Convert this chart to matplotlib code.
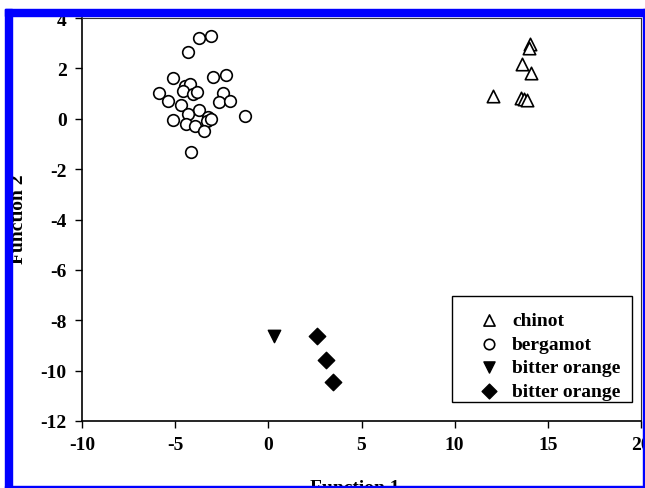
import numpy as np
import matplotlib
matplotlib.use("Agg")
import matplotlib.pyplot as plt
from matplotlib.patches import Rectangle

plt.rcParams['font.family'] = ['Liberation Serif', 'DejaVu Serif']
plt.rcParams['font.weight'] = 'bold'
plt.rcParams['axes.unicode_minus'] = False

# discriminant scores (Function 1, Function 2) per group
chinot_f1 = [14.05, 14.0, 13.6, 14.08, 12.08, 13.55, 13.74, 13.87]
chinot_f2 = [2.97, 2.80, 2.17, 1.80, 0.92, 0.81, 0.78, 0.76]

bergamot_f1 = [-3.74, -3.09, -4.33, -5.10, -2.99, -2.27, -4.47, -4.20, -4.56, -4.06,
               -3.85, -5.85, -5.37, -2.45, -2.65, -2.06, -4.71, -3.70, -4.29, -3.22,
               -3.31, -5.14, -4.42, -3.93, -3.44, -1.25, -4.17, -3.10]
bergamot_f2 = [3.21, 3.30, 2.64, 1.62, 1.67, 1.74, 1.31, 1.38, 1.09, 0.98,
               1.07, 1.01, 0.72, 1.01, 0.68, 0.69, 0.55, 0.36, 0.19, 0.06,
               -0.08, -0.05, -0.21, -0.28, -0.47, 0.12, -1.33, 0.00]

bitter1_f1 = [0.31]
bitter1_f2 = [-8.64]

bitter2_f1 = [2.60, 3.10, 3.49]
bitter2_f2 = [-8.64, -9.58, -10.44]

x_ticks = [-10, -5, 0, 5, 10, 15, 20]
y_ticks = [-12, -10, -8, -6, -4, -2, 0, 2, 4]

fig = plt.figure(figsize=(6.45, 4.89), dpi=100)
ax = fig.add_axes([82 / 645, 67 / 489, 559 / 645, 403 / 489])

ax.scatter(chinot_f1, chinot_f2, marker='^', s=80, facecolors='white',
           edgecolors='black', linewidths=1.2, label='chinot', zorder=3)
ax.scatter(bergamot_f1, bergamot_f2, marker='o', s=70, facecolors='white',
           edgecolors='black', linewidths=1.2, label='bergamot', zorder=3)
ax.scatter(bitter1_f1, bitter1_f2, marker='v', s=80, color='black',
           label='bitter orange', zorder=3)
ax.scatter(bitter2_f1, bitter2_f2, marker='D', s=70, color='black',
           label='bitter orange', zorder=3)

ax.set_xlim(-10, 20)
ax.set_ylim(-12, 4)
ax.set_xticks(x_ticks)
ax.set_yticks(y_ticks)
ax.tick_params(direction='out', length=5, width=1, labelsize=14, pad=6)
for lab in ax.get_xticklabels() + ax.get_yticklabels():
    lab.set_fontweight('bold')

for side in ['left', 'bottom']:
    ax.spines[side].set_linewidth(1.2)
for side in ['top', 'right']:
    ax.spines[side].set_linewidth(0.8)
    ax.spines[side].set_color('#333333')

# legend entries without their own frame; the box is drawn separately
leg = ax.legend(loc='lower left', bbox_to_anchor=(0.7066, 0.0526), borderaxespad=0,
                frameon=False,
                prop={'family': 'Liberation Serif', 'weight': 'bold', 'size': 14},
                labelspacing=0.30, handletextpad=0.6, borderpad=0,
                handlelength=1.2, scatterpoints=1, markerscale=0.9)
ax.add_patch(Rectangle((0.662, 0.047), 0.322, 0.263, transform=ax.transAxes,
                       fill=False, edgecolor='black', linewidth=1.0, zorder=4))

fig.text(355 / 645, 1 - 480 / 489, 'Function 1', ha='center', va='top',
         fontsize=14, fontweight='bold')
fig.text(19 / 645, 1 - 219 / 489, 'Function 2', ha='center', va='center',
         rotation=90, fontsize=14, fontweight='bold')

# blue frame around the figure
blue = '#0000ff'
fig.add_artist(Rectangle((5 / 645, 0), 7 / 645, 479 / 489, transform=fig.transFigure,
                         color=blue, zorder=10))
fig.add_artist(Rectangle((5 / 645, 472 / 489), 640 / 645, 7 / 489, transform=fig.transFigure,
                         color=blue, zorder=10))
fig.add_artist(Rectangle((5 / 645, 0), 640 / 645, 2 / 489, transform=fig.transFigure,
                         color=blue, zorder=10))
fig.add_artist(Rectangle((643 / 645, 0), 2 / 645, 479 / 489, transform=fig.transFigure,
                         color=blue, zorder=10))

fig.savefig('out.png', dpi=100)
